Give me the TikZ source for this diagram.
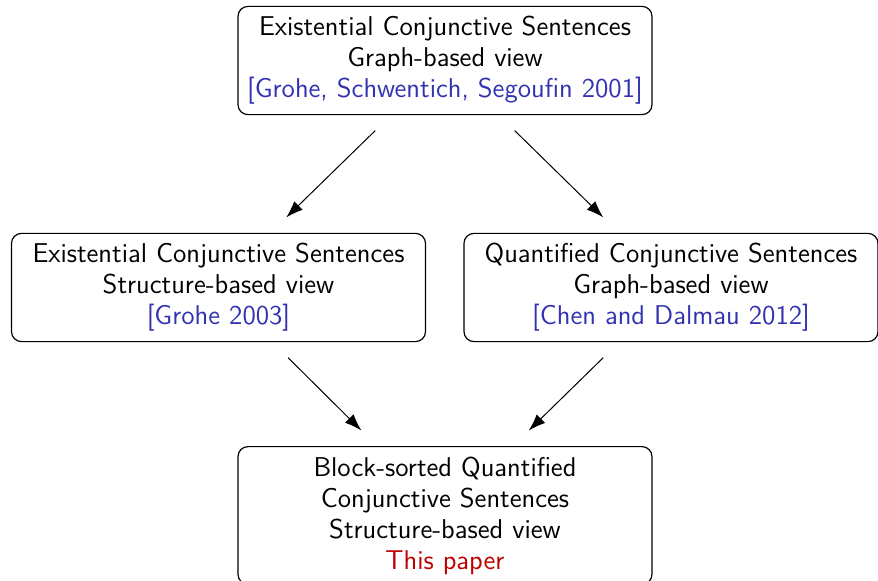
\documentclass[tikz,border=0pt]{standalone}
\usepackage{xcolor}
\usetikzlibrary{arrows.meta}
\definecolor{citeblue}{rgb}{0.2,0.2,0.7}
\definecolor{paperred}{rgb}{0.75,0,0}

\begin{document}
\begin{tikzpicture}[x=1pt, y=1pt, font=\sffamily\fontsize{13.6}{15.5}\selectfont,
    box/.style={draw, rounded corners=5pt, line width=0.6pt, align=center, text width=199pt, inner xsep=4pt, inner ysep=5pt},
    arr/.style={-{Latex[length=8.5pt, width=6pt]}, line width=0.5pt, shorten <=11pt, shorten >=11pt}]
  \useasboundingbox (0,0) rectangle (439,-290);

  \node[box] (top) at (222.5,-30.25) {Existential Conjunctive Sentences\\Graph-based view\\\textcolor{citeblue}{[Grohe, Schwentich, Segoufin 2001]}};
  \node[box] (left) at (109.25,-143.75) {Existential Conjunctive Sentences\\Structure-based view\\\textcolor{citeblue}{[Grohe 2003]}};
  \node[box] (right) at (335.5,-143.75) {Quantified Conjunctive Sentences\\Graph-based view\\\textcolor{citeblue}{[Chen and Dalmau 2012]}};
  \node[box, anchor=north] (bottom) at (222.5,-223) {Block-sorted Quantified\\Conjunctive Sentences\\Structure-based view\\\textcolor{paperred}{This paper}};

  \draw[arr] ([xshift=-27pt]top.south) -- ([xshift=26pt]left.north);
  \draw[arr] ([xshift=27pt]top.south) -- ([xshift=-26pt]right.north);
  \draw[arr] ([xshift=27pt]left.south) -- ([xshift=-34pt]bottom.north);
  \draw[arr] ([xshift=-26pt]right.south) -- ([xshift=34pt]bottom.north);
\end{tikzpicture}
\end{document}
